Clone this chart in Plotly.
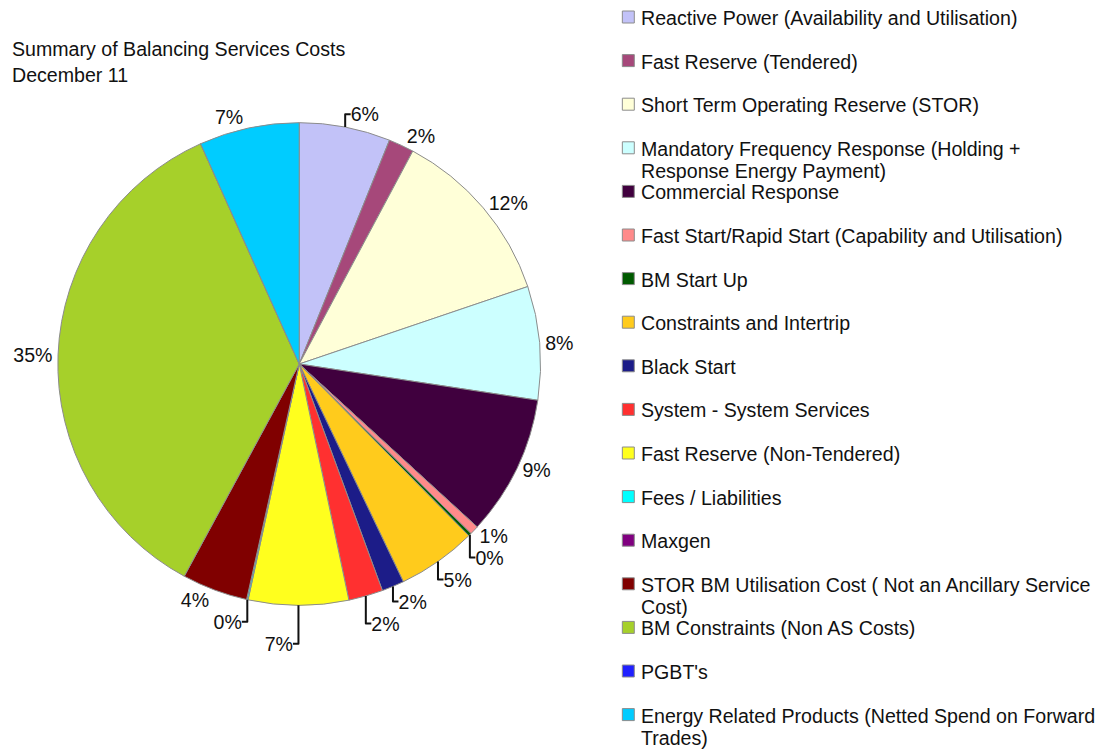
import plotly.graph_objects as go

categories = [
    "Reactive Power (Availability and Utilisation)",
    "Fast Reserve (Tendered)",
    "Short Term Operating Reserve (STOR)",
    "Mandatory Frequency Response (Holding + Response Energy Payment)",
    "Commercial Response",
    "Fast Start/Rapid Start (Capability and Utilisation)",
    "BM Start Up",
    "Constraints and Intertrip",
    "Black Start",
    "System - System Services",
    "Fast Reserve (Non-Tendered)",
    "Fees / Liabilities",
    "Maxgen",
    "STOR BM Utilisation Cost ( Not an Ancillary Service Cost)",
    "BM Constraints (Non AS Costs)",
    "PGBT's",
    "Energy Related Products (Netted Spend on Forward Trades)",
]
# share of total cost, %
values = [6.1, 1.7, 12.0, 7.6, 9.4, 0.6, 0.2, 5.3, 1.5, 2.3, 6.7, 0.1, 0.0, 4.4, 35.4, 0.0, 6.7]

colors = [
    "#c2c2f8", "#a6487a", "#ffffd8", "#ccffff", "#40003e", "#ff8a8a",
    "#005a00", "#ffcb1c", "#1c1c88", "#ff3030", "#ffff1e", "#00ffff",
    "#800080", "#800000", "#a6d02a", "#2020ff", "#00ccff",
]

legend_lines = {
    3: ["Mandatory Frequency Response (Holding +", "Response Energy Payment)"],
    13: ["STOR BM Utilisation Cost ( Not an Ancillary Service", "Cost)"],
    16: ["Energy Related Products (Netted Spend on Forward", "Trades)"],
}

W, H = 1103, 751
OFF = 8  # page body margin


def px(x):
    return (x - OFF) / W


def py(y):
    return 1 - (y - OFF) / H


total = sum(values)
texts = [f"{round(v / total * 100)}%" if v > 0 else "" for v in values]

FONT = "Liberation Sans, Arial, sans-serif"
FS = 19.6

fig = go.Figure()
fig.add_trace(go.Pie(
    labels=categories,
    values=values,
    text=texts,
    textinfo="text",
    textposition="outside",
    sort=False,
    direction="clockwise",
    rotation=0,
    marker=dict(colors=colors, line=dict(color="#8c8c8c", width=1)),
    outsidetextfont=dict(family=FONT, size=FS, color="#111111"),
    domain=dict(x=[px(55), px(539)], y=[py(606), py(122)]),
    showlegend=False,
    hoverinfo="label+percent",
))

shapes = []
annotations = []
# manual legend
y0, step = 17, 43.6
for i, (name, col) in enumerate(zip(categories, colors)):
    yc = y0 + i * step
    shapes.append(dict(
        type="rect", xref="paper", yref="paper",
        x0=px(621), x1=px(633), y0=py(yc + 6), y1=py(yc - 6),
        fillcolor=col, line=dict(color="#8c8c8c", width=1),
    ))
    lines = legend_lines.get(i, [name])
    for j, ln in enumerate(lines):
        annotations.append(dict(
            xref="paper", yref="paper", x=px(638), y=py(yc + 1 + j * 22.5),
            xanchor="left", yanchor="middle", showarrow=False, text=ln,
            font=dict(family=FONT, size=FS, color="#111111"),
        ))

# title
annotations.append(dict(
    xref="paper", yref="paper", x=px(7), y=py(49), xanchor="left", yanchor="middle",
    showarrow=False, text="Summary of Balancing Services Costs",
    font=dict(family=FONT, size=FS, color="#111111"),
))
annotations.append(dict(
    xref="paper", yref="paper", x=px(7), y=py(75), xanchor="left", yanchor="middle",
    showarrow=False, text="December 11",
    font=dict(family=FONT, size=FS, color="#111111"),
))

fig.update_layout(
    width=W, height=H,
    margin=dict(l=0, r=0, t=0, b=0),
    paper_bgcolor="white", plot_bgcolor="white",
    shapes=shapes, annotations=annotations,
    showlegend=False,
)

fig.write_html("out.html")
